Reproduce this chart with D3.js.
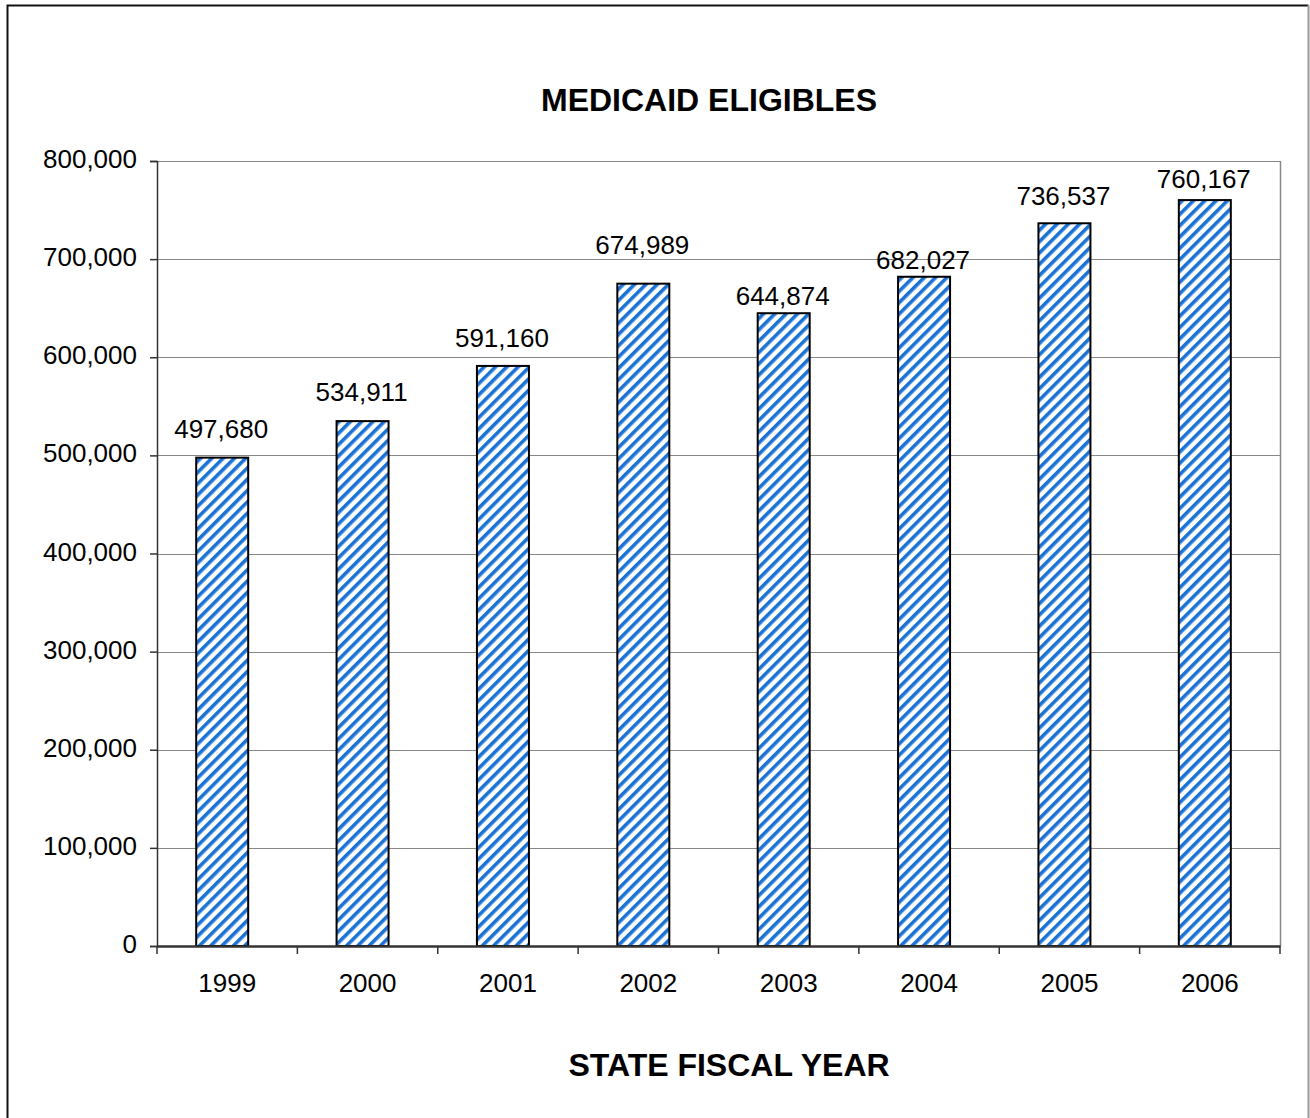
<!DOCTYPE html>
<html><head><meta charset="utf-8">
<script src="https://cdn.jsdelivr.net/npm/d3@7/dist/d3.min.js"></script>
<style>body{margin:0;background:#fff}svg{display:block}text{font-family:"Liberation Sans",Arial,sans-serif}</style>
</head><body>
<script>
const years = ["1999","2000","2001","2002","2003","2004","2005","2006"];
const eligibles = [497680, 534911, 591160, 674989, 644874, 682027, 736537, 760167];
const yTicks = [0,100000,200000,300000,400000,500000,600000,700000,800000];
const title = "MEDICAID ELIGIBLES";
const xTitle = "STATE FISCAL YEAR";

const W=1310,H=1118;
const svg=d3.select("body").append("svg").attr("width",W).attr("height",H);
const defs=svg.append("defs");
const pat=defs.append("pattern").attr("id","hatch").attr("patternUnits","userSpaceOnUse")
  .attr("width",8).attr("height",8).attr("patternTransform","rotate(45)");
pat.append("rect").attr("width",8).attr("height",8).attr("fill","#fff");
pat.append("rect").attr("x",0).attr("width",3.6).attr("height",8).attr("fill","#1a72d6");

// outer frame
svg.append("path").attr("d",`M7.5,${H+2} V5.5 H1308.5`).attr("fill","none").attr("stroke","#111").attr("stroke-width",2);
svg.append("line").attr("x1",1308.5).attr("x2",1308.5).attr("y1",5).attr("y2",H).attr("stroke","#999").attr("stroke-width",2);

const L=157,R=1280,T=161,B=946;
const x=d3.scaleBand().domain(years).range([L,R]).padding(0);
const y=d3.scaleLinear().domain([0,800000]).range([B,T]);

// gridlines
svg.append("g").selectAll("line").data(yTicks.filter(d=>d>0)).join("line")
  .attr("x1",L).attr("x2",R).attr("y1",d=>Math.round(y(d))+0.5).attr("y2",d=>Math.round(y(d))+0.5)
  .attr("stroke","#888").attr("stroke-width",1);
// plot border right
svg.append("line").attr("x1",R+0.5).attr("x2",R+0.5).attr("y1",T).attr("y2",B).attr("stroke","#888").attr("stroke-width",1.5);

// bars
const barW=52;
svg.append("g").selectAll("rect").data(years).join("rect")
  .attr("x",(d)=>x(d)+(x.bandwidth()-barW)/2-5)
  .attr("y",(d,i)=>y(eligibles[i]))
  .attr("width",barW)
  .attr("height",(d,i)=>B-y(eligibles[i]))
  .attr("fill","url(#hatch)").attr("stroke","#000").attr("stroke-width",2);

// data labels (manually nudged in the original; lift in px above bar top)
const labelLift=[20,20,19,30,8,8,18,12];
const fmt=d3.format(",");
svg.append("g").selectAll("text").data(years).join("text")
  .attr("x",d=>x(d)+x.bandwidth()/2-6)
  .attr("y",(d,i)=>y(eligibles[i])-labelLift[i])
  .attr("text-anchor","middle").attr("font-size",26).attr("fill","#000")
  .text((d,i)=>fmt(eligibles[i]));

// y axis
const yAxis=d3.axisLeft(y).tickValues(yTicks).tickFormat(fmt).tickSize(7).tickPadding(13);
const gy=svg.append("g").attr("transform",`translate(${L},0)`).call(yAxis);
gy.select(".domain").attr("stroke","#333").attr("stroke-width",1.5);
gy.selectAll(".tick line").attr("stroke","#333").attr("stroke-width",1.5);
gy.selectAll("text").attr("font-size",26).attr("fill","#000").attr("dy","0.25em").attr("font-family","Liberation Sans, Arial, sans-serif");

// x axis
const xAxis=d3.axisBottom(x).tickSize(0).tickPadding(0);
const gx=svg.append("g").attr("transform",`translate(0,${B})`).call(xAxis);
gx.select(".domain").attr("stroke","#333").attr("stroke-width",2.5);
gx.selectAll("text").attr("font-size",26).attr("fill","#000").attr("dy",null).attr("y",46).attr("font-family","Liberation Sans, Arial, sans-serif");
// category boundary ticks
svg.append("g").selectAll("line").data(d3.range(years.length+1)).join("line")
  .attr("x1",i=>L+i*x.bandwidth()).attr("x2",i=>L+i*x.bandwidth())
  .attr("y1",B).attr("y2",B+8).attr("stroke","#333").attr("stroke-width",1.5);

// titles
svg.append("text").attr("x",709).attr("y",111).attr("text-anchor","middle")
  .attr("font-size",32).attr("font-weight","bold").text(title);
svg.append("text").attr("x",729).attr("y",1076).attr("text-anchor","middle")
  .attr("font-size",32).attr("font-weight","bold").text(xTitle);
</script>
</body></html>
